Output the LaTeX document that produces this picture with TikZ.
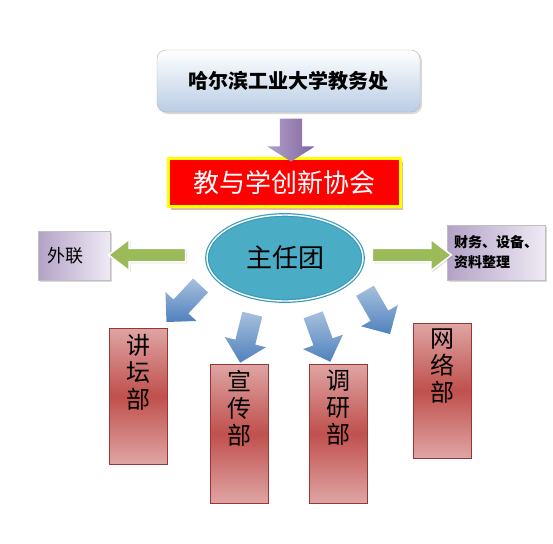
\documentclass[tikz,border=0pt]{standalone}
\usepackage{fontspec}
\newfontfamily\cjk{Noto Sans CJK SC}
\usetikzlibrary{positioning,shapes.geometric,shapes.arrows,shadows}
\definecolor{officeblue}{HTML}{B9CDE5}
\definecolor{hdred}{HTML}{FF0000}
\definecolor{hdyellow}{HTML}{FFFF00}
\definecolor{ovalteal}{HTML}{4BACC6}
\definecolor{ovalrim}{HTML}{3A9BB8}
\definecolor{arrgreen}{HTML}{9BBB59}
\definecolor{lilaclight}{HTML}{EEEAF4}
\definecolor{lilacdark}{HTML}{B3A2C7}
\definecolor{arrpurple}{HTML}{8064A2}
\definecolor{arrbluelight}{HTML}{A7C0DE}
\definecolor{arrbluedark}{HTML}{4F81BD}
\definecolor{deptlight}{HTML}{DFA5A3}
\definecolor{deptdark}{HTML}{C0504D}
\definecolor{deptrim}{HTML}{953735}
\begin{document}
\begin{tikzpicture}[x=1pt,y=-1pt,
  softshadow/.style={drop shadow={opacity=0.3,shadow xshift=2pt,shadow yshift=-2pt}},
  officebox/.style={draw=gray!60, rounded corners=9pt, top color=white, bottom color=officeblue,
    minimum width=263pt, minimum height=62pt, softshadow, font=\cjk\bfseries\fontsize{20}{24}\selectfont},
  headbox/.style={draw=hdyellow, line width=3pt, fill=hdred, minimum width=232pt, minimum height=48pt,
    drop shadow={opacity=0.5,shadow xshift=2pt,shadow yshift=-3pt,fill=brown},
    text=white, font=\cjk\fontsize{26}{30}\selectfont},
  ovalnode/.style={ellipse, draw=ovalrim, line width=1.2pt, double=white, double distance=1.4pt,
    fill=ovalteal, minimum width=156pt, minimum height=86pt, font=\cjk\fontsize{26}{30}\selectfont},
  sidebox/.style={draw=gray!50, shading angle=135, left color=lilacdark, right color=lilaclight,
    softshadow, font=\cjk\bfseries\fontsize{14}{20}\selectfont, inner sep=6pt},
  greenarrow/.style={single arrow, draw=white, line width=1.5pt, fill=arrgreen, inner xsep=0pt, inner ysep=6pt,
    single arrow head extend=9pt, single arrow tip angle=75,
    drop shadow={opacity=0.25,shadow xshift=1.5pt,shadow yshift=-1.5pt}},
  purplearrow/.style={single arrow, draw=none, left color=lilacdark, right color=arrpurple, inner xsep=0pt, inner ysep=11pt,
    single arrow head extend=12.5pt, single arrow tip angle=115},
  bluearrow/.style={single arrow, draw=none, top color=arrbluelight, bottom color=arrbluedark, inner xsep=0pt, inner ysep=10pt,
    single arrow head extend=11pt, single arrow tip angle=90, minimum height=50pt},
  deptbox/.style={draw=deptrim, top color=deptlight, bottom color=deptlight, middle color=deptdark,
    minimum width=58pt},
  depttext/.style={anchor=north, align=center, inner sep=0pt, font=\cjk\fontsize{24}{27}\selectfont}]
\useasboundingbox (0,0) rectangle (553,543);

% top levels
\node[officebox] (office) at (288.5,81) {哈尔滨工业大学教务处};
\node[headbox] (assoc) at (284.5,182.5) {教与学创新协会};
\node[purplearrow, minimum height=43pt, rotate=-90] (down) at (291,136.5) {};
\node[ovalnode] (board) at (285,258) {主任团};

% side boxes
\node[sidebox, minimum width=72pt, minimum height=49pt, align=left, font=\cjk\fontsize{18}{22}\selectfont] (liaison) at (74,255.5) {外联\hspace{18pt}};
\node[sidebox, minimum width=98pt, minimum height=55pt, align=left] (finance) at (496,252.5) {财务、设备、\\资料整理};
\node[greenarrow, minimum height=77pt, rotate=180] (toleft) at (151.5,255) {};
\node[greenarrow, minimum height=79pt] (toright) at (407.5,255) {};

% departments
\node[deptbox, minimum height=136pt] (forum) at (138.5,396) {};
\node[deptbox, minimum height=139pt] (publicity) at (239,433.5) {};
\node[deptbox, minimum height=139pt] (research) at (338.5,433.5) {};
\node[deptbox, minimum height=135pt] (network) at (442,390.5) {};
\node[depttext, below=6pt of forum.north] (forumtxt) {讲\\坛\\部};
\node[depttext, below=6pt of publicity.north] (publicitytxt) {宣\\传\\部};
\node[depttext, below=6pt of research.north] (researchtxt) {调\\研\\部};
\node[depttext, below=6pt of network.north] (networktxt) {网\\络\\部};

% arrows down to the departments
\node[bluearrow, rotate=-133] (toforum) at (187,300) {};
\node[bluearrow, rotate=-104] (topublicity) at (247.5,333.5) {};
\node[bluearrow, rotate=-70] (toresearch) at (320,333.5) {};
\node[bluearrow, rotate=-60] (tonetwork) at (375,308) {};
\end{tikzpicture}
\end{document}
